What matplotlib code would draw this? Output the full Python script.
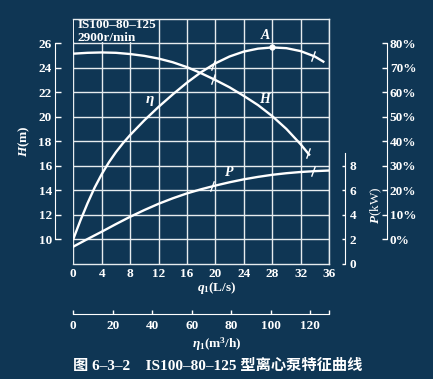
import numpy as np
import matplotlib.pyplot as plt
from matplotlib.patches import Rectangle

plt.rcParams['font.family'] = ['Liberation Serif', 'Noto Sans CJK SC']
plt.rcParams['font.weight'] = 'bold'
plt.rcParams['mathtext.fontset'] = 'custom'
plt.rcParams['mathtext.it'] = 'Liberation Serif:italic:bold'
plt.rcParams['mathtext.rm'] = 'Liberation Serif:bold'
plt.rcParams['mathtext.bf'] = 'Liberation Serif:bold'

bg = '#0f3654'
fg = 'white'

# head curve H (m) vs flow q (L/s)
q_head = [0, 2, 4, 6, 8, 10, 12, 14, 16, 18, 20, 22, 24, 26, 28, 30, 32, 33.2]
head = [25.15, 25.22, 25.25, 25.22, 25.12, 24.97, 24.75, 24.45, 24.05, 23.55, 23.0,
        22.4, 21.7, 20.95, 20.05, 19.0, 17.75, 16.9]

# efficiency curve (%)
q_eta = [0, 1, 2, 3, 4, 5, 6, 7, 8, 10, 12, 14, 16, 18, 20, 22, 24, 26, 28, 30,
         32, 34, 35.2]
eta = [0, 7.6, 14.6, 21.0, 26.5, 31.3, 35.5, 39.2, 42.5, 48.5, 54.0, 59.1, 63.9,
       68.2, 71.8, 74.6, 76.6, 77.8, 78.3, 78.0, 76.8, 74.6, 72.5]

# shaft power (kW)
q_power = [0, 2, 4, 6, 8, 10, 12, 14, 16, 18, 20, 22, 24, 26, 28, 30, 32, 34, 36]
power = [1.38, 2.0, 2.6, 3.22, 3.82, 4.37, 4.88, 5.33, 5.73, 6.07, 6.37, 6.64, 6.88,
         7.08, 7.25, 7.38, 7.48, 7.55, 7.6]

# recommended range marks and best efficiency point
slash_q_eta = [19.7, 33.8]
slash_q_head = [19.7, 33.0]
slash_q_power = [19.5, 33.8]
q_best = 28

q_ticks = list(range(0, 37, 4))
head_ticks = list(range(10, 27, 2))
power_ticks = [0, 2, 4, 6, 8]
eta_ticks = list(range(0, 81, 10))
m3h_ticks = list(range(0, 121, 20))

fs = 9.5

fig = plt.figure(figsize=(4.33, 3.79), dpi=100, facecolor=bg)
ax = fig.add_axes([0.1693, 0.3047, 0.5905, 0.6457], facecolor=bg)
ax.set_xlim(0, 36)
ax.set_ylim(8, 28)
ax.set_axisbelow(True)
ax.grid(True, color='#e6ecef', linewidth=1.0)
for s in ['top', 'right', 'bottom']:
    ax.spines[s].set_color('#e6ecef')
    ax.spines[s].set_linewidth(1.0)
ax.spines['left'].set_position(('outward', 13))
ax.spines['left'].set_bounds(10, 26)
ax.spines['left'].set_color(fg)
ax.set_xticks(q_ticks)
ax.set_yticks(head_ticks)
ax.tick_params(axis='x', length=0, pad=3, colors=fg, labelsize=fs)
ax.tick_params(axis='y', direction='in', length=4, width=1, pad=2.5, colors=fg,
               labelsize=fs)
ax.add_patch(Rectangle((0.08, 26.1), 11.6, 1.85, facecolor=bg, edgecolor='none',
                       zorder=1))
ax.text(0.6, 27.5, 'IS100–80–125', color=fg, fontsize=9.5, va='center', zorder=3)
ax.text(0.6, 26.4, '2900r/min', color=fg, fontsize=9.5, va='center', zorder=3)

ax.plot(q_head, head, color=fg, lw=1.7, zorder=4)
ax.plot(slash_q_head, np.interp(slash_q_head, q_head, head), ls='none',
        marker=(2, 0, -20), ms=8, mec=fg, mew=1.0, zorder=4)
ax.text(26.9, 21.4, 'H', color=fg, fontsize=10, style='italic', ha='center',
        va='center')

# power axis
axp = ax.twinx()
axp.set_ylim(0, 20)
axp.patch.set_visible(False)
for s in ['top', 'left', 'bottom']:
    axp.spines[s].set_visible(False)
axp.spines['right'].set_position(('axes', 1.0626))
axp.spines['right'].set_bounds(0, 9)
axp.spines['right'].set_color(fg)
axp.set_yticks(power_ticks)
axp.tick_params(axis='y', direction='in', length=2.5, width=1, pad=3.5, colors=fg,
                labelsize=fs)
axp.set_ylabel('$P$(kW)', color=fg, fontsize=fs, rotation=90)
axp.yaxis.set_label_coords(1.155, 0.237)
axp.plot(q_power, power, color=fg, lw=1.7)
axp.plot(slash_q_power, np.interp(slash_q_power, q_power, power), ls='none',
         marker=(2, 0, -20), ms=8, mec=fg, mew=1.0)
axp.text(21.9, 7.45, 'P', color=fg, fontsize=10, style='italic', ha='center',
         va='center')

# efficiency axis
axe = ax.twinx()
axe.set_ylim(-10, 90)
axe.patch.set_visible(False)
for s in ['top', 'left', 'bottom']:
    axe.spines[s].set_visible(False)
axe.spines['right'].set_position(('axes', 1.227))
axe.spines['right'].set_bounds(0, 80)
axe.spines['right'].set_color(fg)
axe.set_yticks(eta_ticks)
axe.set_yticklabels([f'{v}%' for v in eta_ticks])
axe.tick_params(axis='y', direction='in', length=3.5, width=1, pad=2, colors=fg,
                labelsize=fs)
axe.plot(q_eta, eta, color=fg, lw=1.7)
axe.plot(slash_q_eta, np.interp(slash_q_eta, q_eta, eta), ls='none',
         marker=(2, 0, -20), ms=8, mec=fg, mew=1.0)
axe.plot([q_best], [np.interp(q_best, q_eta, eta)], 'o', color=fg, ms=3.5)
axe.text(q_best - 0.9, 83, 'A', color=fg, fontsize=10, style='italic',
         ha='center', va='center')
axe.text(10.8, 57, 'η', color=fg, fontsize=11, style='italic', ha='center',
         va='center')

# m3/h scale
sec = ax.secondary_xaxis(-0.2044, functions=(lambda x: x * 3.6, lambda x: x / 3.6))
sec.spines['bottom'].set_color(fg)
sec.set_xticks(m3h_ticks)
sec.set_xticks([36 * 3.6], minor=True)
sec.tick_params(axis='x', which='both', direction='in', length=3, width=1, pad=5,
                colors=fg, labelsize=fs)
sec.set_xticklabels([str(v) for v in m3h_ticks], minor=False)

fig.text(217 / 433, 1 - 288 / 379, '$q_1$(L/s)', color=fg, fontsize=fs,
         ha='center', va='center')
fig.text(217 / 433, 1 - 344 / 379, r'$\eta_1$(m$^3$/h)', color=fg, fontsize=fs,
         ha='center', va='center')
fig.text(24 / 433, 1 - 141 / 379, '$H$(m)', color=fg, fontsize=fs, rotation=90,
         ha='center', va='center')
fig.text(217.5 / 433, 1 - 366 / 379, '图 6–3–2    IS100–80–125 型离心泵特征曲线',
         color=fg, fontsize=11, ha='center', va='center')

fig.savefig('out.png', dpi=100, facecolor=bg)
